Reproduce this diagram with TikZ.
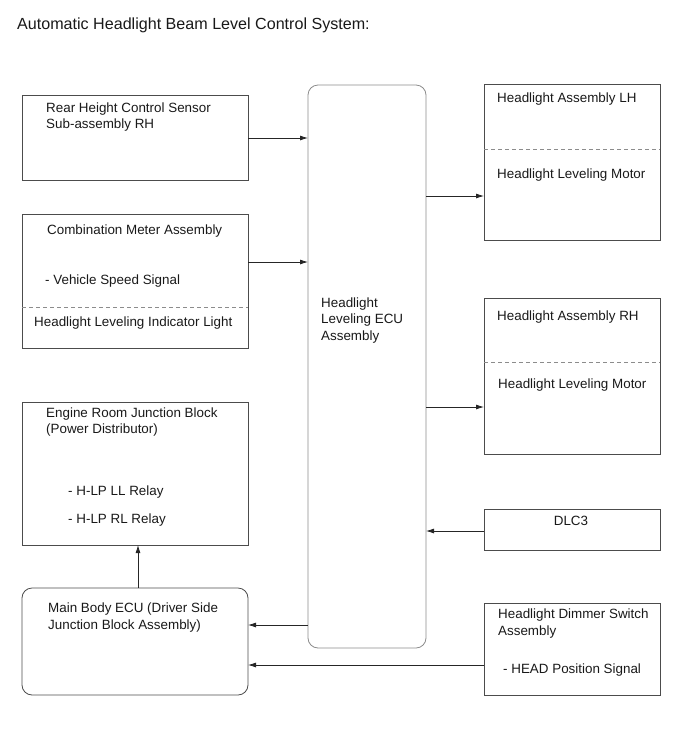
\documentclass[tikz,border=0pt]{standalone}
\usepackage{fontspec}
\setmainfont{Liberation Sans}
\usetikzlibrary{arrows.meta}
\begin{document}
\begin{tikzpicture}[x=1pt,y=-1pt,
  box/.style={draw=black!70, line width=0.8pt, inner sep=0pt, outer sep=0pt, anchor=north west},
  rbox/.style={box, rounded corners=10pt},
  txt/.style={anchor=base west, inner sep=0pt, font=\fontsize{13.4}{16}\selectfont, text=black!90},
  sep/.style={draw=black!45, dash pattern=on 4pt off 3pt, line width=0.8pt},
  arr/.style={draw=black!85, line width=0.8pt, -{Latex[length=8pt,width=5pt]}}]
\useasboundingbox (0,0) rectangle (690,756);

% title
\node[txt, font=\fontsize{16.1}{19}\selectfont] (title) at (17,29) {Automatic Headlight Beam Level Control System:};

% boxes
\node[box, minimum width=226pt, minimum height=85pt] (rear) at (22,95) {};
\node[box, minimum width=226pt, minimum height=134pt] (meter) at (22,214) {};
\node[box, minimum width=226pt, minimum height=143pt] (engine) at (22,402) {};
\node[rbox, minimum width=226pt, minimum height=107pt] (main) at (22,588) {};
\node[rbox, draw=black!45, minimum width=118pt, minimum height=563pt] (ecu) at (308,85) {};
\node[box, minimum width=176pt, minimum height=156pt] (lh) at (484,84) {};
\node[box, minimum width=176pt, minimum height=156pt] (rh) at (484,298) {};
\node[box, minimum width=176pt, minimum height=41pt] (dlc) at (484,509) {};
\node[box, minimum width=176pt, minimum height=92pt] (dim) at (484,603) {};

% dashed separators
\draw[sep] (22,307) -- (248,307);
\draw[sep] (484,149) -- (660,149);
\draw[sep] (484,362) -- (660,362);

% texts
\node[txt] (t1) at (46,112) {Rear Height Control Sensor};
\node[txt] (t2) at (46,128) {Sub-assembly RH};
\node[txt] (t3) at (47,234) {Combination Meter Assembly};
\node[txt] (t4) at (45,284) {- Vehicle Speed Signal};
\node[txt] (t5) at (34,326) {Headlight Leveling Indicator Light};
\node[txt] (t6) at (46,417) {Engine Room Junction Block};
\node[txt] (t7) at (46,433) {(Power Distributor)};
\node[txt] (t8) at (68,495) {- H-LP LL Relay};
\node[txt] (t9) at (68,523) {- H-LP RL Relay};
\node[txt] (t10) at (48,612) {Main Body ECU (Driver Side};
\node[txt] (t11) at (48,629) {Junction Block Assembly)};
\node[txt] (t12) at (321,307) {Headlight};
\node[txt] (t13) at (321,323) {Leveling ECU};
\node[txt] (t14) at (321,340) {Assembly};
\node[txt] (t15) at (497,102) {Headlight Assembly LH};
\node[txt] (t16) at (497,178) {Headlight Leveling Motor};
\node[txt] (t17) at (497,320) {Headlight Assembly RH};
\node[txt] (t18) at (498,388) {Headlight Leveling Motor};
\node[txt, anchor=base] (t19) at (571,525) {DLC3};
\node[txt] (t20) at (498,618) {Headlight Dimmer Switch};
\node[txt] (t21) at (498,635) {Assembly};
\node[txt] (t22) at (503,673) {- HEAD Position Signal};

% connector levels
\coordinate (y138) at (0,138);
\coordinate (y262) at (0,262);
\coordinate (y196) at (0,196);
\coordinate (y407) at (0,407);
\coordinate (y531) at (0,531);
\coordinate (y625) at (0,625);
\coordinate (y665) at (0,665);
\coordinate (x138) at (138,0);

% connectors
\draw[arr] (rear.east |- y138) -- (ecu.west |- y138);
\draw[arr] (meter.east |- y262) -- (ecu.west |- y262);
\draw[arr] (ecu.east |- y196) -- (lh.west |- y196);
\draw[arr] (ecu.east |- y407) -- (rh.west |- y407);
\draw[arr] (dlc.west |- y531) -- (ecu.east |- y531);
\draw[arr] (ecu.west |- y625) -- (main.east |- y625);
\draw[arr] (dim.west |- y665) -- (main.east |- y665);
\draw[arr] (x138 |- main.north) -- (x138 |- engine.south);
\end{tikzpicture}
\end{document}
